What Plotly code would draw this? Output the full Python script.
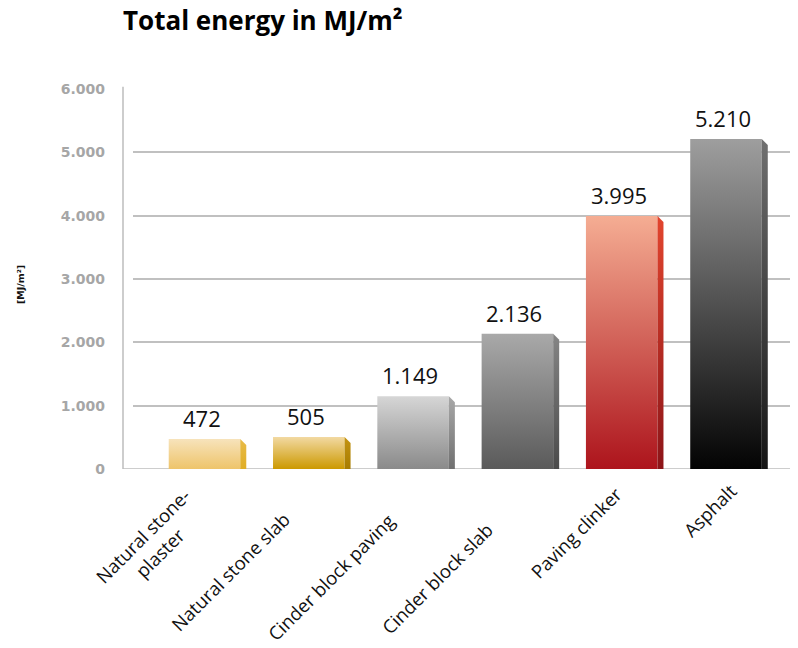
import plotly.graph_objects as go

# ---- data -------------------------------------------------------------
categories = [
    "Natural stone-<br>plaster",
    "Natural stone slab",
    "Cinder block paving",
    "Cinder block slab",
    "Paving clinker",
    "Asphalt",
]
energy_mj_m2 = [472, 505, 1149, 2136, 3995, 5210]
y_tick_values = [0, 1000, 2000, 3000, 4000, 5000, 6000]
y_tick_labels = ["0", "1.000", "2.000", "3.000", "4.000", "5.000", "6.000"]

# ---- styling ----------------------------------------------------------
# (top colour, bottom colour) of the front face and of the side face
front_colors = [
    ("#f7e3bb", "#eec46a"),
    ("#f2d9a2", "#cc9900"),
    ("#d6d6d6", "#8a8a8a"),
    ("#a9a9a9", "#5a5a5a"),
    ("#f5ad93", "#ad141c"),
    ("#9e9e9e", "#030303"),
]
side_colors = [
    ("#e8bb48", "#e0ae26"),
    ("#c49412", "#a77c00"),
    ("#a8a8a8", "#707070"),
    ("#858585", "#4a4a4a"),
    ("#e2452e", "#8c1418"),
    ("#707070", "#151515"),
]
# pixel offset (right, down) of each rotated category label's centre
label_offsets = [(-54, 75), (-79, 102), (-83, 108), (-81, 109), (-46, 63), (-17, 41)]

HALF = 0.343    # half width of a column's front face (category units)
DEPTH = 0.0575  # width of the side face (category units)
DROP = 95       # slant of the side face's top edge (value units)

W, H = 798, 648
L, R, T, B = 133, 8, 89, 179
X_RANGE = [-0.6855, 5.6136]

fig = go.Figure()

for i, (v, fc, sc) in enumerate(zip(energy_mj_m2, front_colors, side_colors)):
    # front face
    fig.add_trace(go.Scatter(
        x=[i - HALF, i + HALF, i + HALF, i - HALF, i - HALF],
        y=[0, 0, v, v, 0],
        mode="lines", fill="toself", line=dict(width=0),
        fillgradient=dict(type="vertical", colorscale=[[0, fc[1]], [1, fc[0]]]),
        hoverinfo="skip", showlegend=False,
    ))
    # side face
    fig.add_trace(go.Scatter(
        x=[i + HALF, i + HALF + DEPTH, i + HALF + DEPTH, i + HALF, i + HALF],
        y=[0, 0, v - DROP, v, 0],
        mode="lines", fill="toself", line=dict(width=0),
        fillgradient=dict(type="vertical", colorscale=[[0, sc[1]], [1, sc[0]]]),
        hoverinfo="skip", showlegend=False,
    ))

annotations = []
# value labels above the columns
for i, v in enumerate(energy_mj_m2):
    annotations.append(dict(
        x=i, y=v, xref="x", yref="y", text=f"{v:,}".replace(",", "."),
        showarrow=False, xanchor="center", yanchor="bottom",
        xshift=-3, yshift=4,
        font=dict(family="Open Sans", size=22, color="#111111"),
    ))
# rotated category labels
for i, (name, (dx, dy)) in enumerate(zip(categories, label_offsets)):
    annotations.append(dict(
        x=i, y=0, xref="x", yref="y", text=name, textangle=-45,
        showarrow=False, xanchor="center", yanchor="middle", align="center",
        xshift=dx, yshift=-dy,
        font=dict(family="Open Sans", size=18.5, color="#111111"),
    ))
# vertical axis unit
annotations.append(dict(
    x=(20 - L) / (W - L - R), y=(H - B - 285) / (H - T - B), xref="paper", yref="paper",
    text="<b>[MJ/m²]</b>", textangle=-90, showarrow=False,
    xanchor="center", yanchor="middle",
    font=dict(family="DejaVu Sans", size=9.5, color="#111111"),
))

axis_x0 = -10 / (W - L - R)
shapes = [
    dict(type="line", xref="paper", yref="paper", x0=axis_x0, x1=axis_x0, y0=0, y1=1.006,
         line=dict(color="#bdbdbd", width=1.5)),
    dict(type="line", xref="paper", yref="y", x0=axis_x0, x1=1, y0=0, y1=0,
         line=dict(color="#bdbdbd", width=1.5), layer="below"),
]

fig.update_layout(
    width=W, height=H,
    margin=dict(l=L, r=R, t=T, b=B),
    paper_bgcolor="white", plot_bgcolor="white",
    title=dict(
        text="<b>Total energy in MJ/m²</b>",
        x=123 / W, xanchor="left", xref="container",
        y=1 - 21 / H, yanchor="middle", yref="container",
        font=dict(family="Open Sans", size=26, color="#000000"),
    ),
    xaxis=dict(range=X_RANGE, showgrid=False, zeroline=False, showline=False,
               showticklabels=False, ticks="", fixedrange=True),
    yaxis=dict(range=[0, 6000], tickvals=y_tick_values, ticktext=y_tick_labels,
               showgrid=True, gridcolor="#c0c0c0", gridwidth=1.5,
               zeroline=False, showline=False, ticks="",
               ticklabelstandoff=27,
               tickfont=dict(family="DejaVu Sans", size=14, color="#a6a6a6", weight="bold"),
               fixedrange=True),
    annotations=annotations,
    shapes=shapes,
    showlegend=False,
)

fig.write_html("out.html")
